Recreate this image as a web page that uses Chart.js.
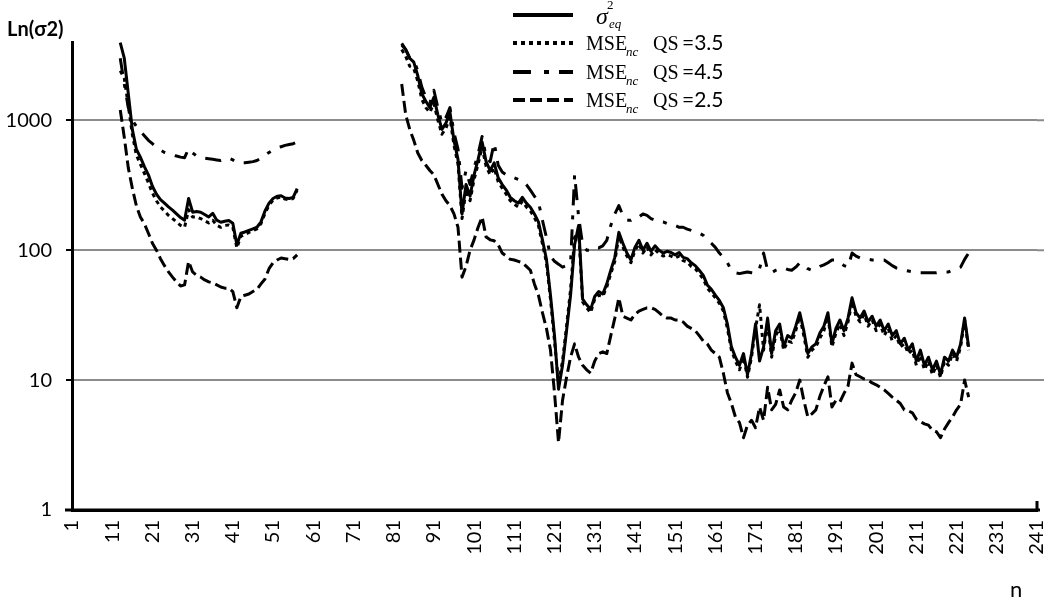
<!DOCTYPE html>
<html lang="en">
<head>
    <meta charset="UTF-8">
    <title>MSE vs n</title>
    <script src="https://cdn.jsdelivr.net/npm/chart.js"></script>
    <style>
        body { margin: 0; background: #fff; }
    </style>
</head>
<body>
    <canvas id="mse" width="1044" height="600"></canvas>
    <script>
        // x categories 1..241, only every 10th is labelled
        const nValues = Array.from({ length: 241 }, (_, i) => String(i + 1))
        const xTickLabels = ['1','11','21','31','41','51','61','71','81','91','101','111','121','131','141','151','161','171','181','191','201','211','221','231','241']
        const yTicks = [1, 10, 100, 1000]

        // first run starts at n=13, second at n=83
        const start1 = 13
        const start2 = 83

        // sigma^2_eq (solid)
        const sigmaEq1 = [3950,3000,1600,850,600,520,440,380,310,270,245,230,215,203,190,178,170,250,196,198,
            196,188,180,192,170,164,167,169,161,110,135,138,142,146,150,165,200,230,250,260,262,252,250,255,298]
        const sigmaEq2 = [3900,3500,3000,2800,2200,1600,1400,1250,1500,1100,
            850,950,1150,700,500,190,320,260,380,500,
            680,480,410,470,360,320,290,255,240,230,
            255,230,214,190,165,120,85,45,22,8.5,
            13,24,45,110,155,42,38,35,44,48,
            46,55,70,88,137,113,95,84,105,119,
            100,113,98,108,100,95,98,96,92,96,
            88,86,80,76,70,64,54,50,45,41,
            36,27,18,15,13,16,11,16,27,14,
            18,30,16,24,27,18,22,21,26,33,
            24,16,18,19,23,26,33,19,25,29,
            24,30,43,33,30,34,28,31,26,29,
            24,27,22,24,19,21,17,19,14,17,
            13,15,12,14,11,15,14,17,15,19,
            30,18]

        // MSE_nc QS=3.5 (dotted)
        const qs35a = [2400,2100,1300,780,540,460,390,330,275,240,215,200,185,175,165,155,150,205,180,180,
            175,168,162,170,155,150,155,156,150,104,128,132,137,141,146,160,192,222,242,252,256,247,245,250,290]
        const qs35b = [3500,3100,2600,2500,2000,1450,1250,1150,1350,1000,
            780,870,1050,640,460,175,290,240,350,460,
            620,440,380,430,335,300,270,240,225,215,
            238,215,200,178,155,112,80,42,20,9.5,
            14,26,50,125,140,40,36,33,42,45,
            44,52,66,82,128,106,90,80,99,112,
            95,106,92,101,94,90,92,90,87,90,
            83,81,75,72,66,60,51,47,43,39,
            34,25,17,14,12,15,10.5,15,25,38,
            17,28,15,22,25,17,20,19.5,24,31,
            22,15,17,18,21,24,31,18,23,27,
            22,28,40,31,28,32,26,29,24,27,
            22,25,20,22,18,19,16,17,13,15.5,
            12,14,11,13,10.5,14,13,16,14,18,
            29,17]

        // MSE_nc QS=4.5 (dash-dot)
        const qs45a = [3000,1900,1250,1000,900,820,760,700,660,620,590,565,550,540,530,520,515,605,560,530,
            515,510,505,500,495,490,505,510,495,475,470,470,475,480,490,510,540,565,590,610,625,640,650,660,680]
        const qs45b = [3800,3500,3000,2900,2400,1800,1500,1350,1700,1250,
            950,1050,1250,800,600,300,410,320,430,550,
            750,520,480,670,450,400,380,365,360,350,
            345,320,290,260,235,170,125,90,82,78,
            74,76,80,380,180,110,100,100,105,104,
            108,119,155,190,220,185,170,170,180,180,
            190,185,175,170,165,165,160,160,155,150,
            150,145,142,138,135,130,120,113,105,95,
            88,80,70,67,66,67,68,67,66,72,
            95,70,67,70,72,73,71,70,74,80,
            76,72,70,72,75,77,80,84,84,80,
            76,74,95,90,87,86,85,84,84,84,
            84,80,76,73,72,70,69,68,68,67,
            67,67,67,67,68,68,68,70,72,74,
            85,95]

        // MSE_nc QS=2.5 (dashed)
        const qs25a = [1200,740,430,300,220,180,160,135,113,100,86,76,68,62,57,53,54,82,68,64,
            62,59,57,56,54,52,51,51,48,36,44,45,46,48,50,55,60,72,80,84,87,86,85,86,92]
        const qs25b = [1900,1100,850,700,560,490,450,410,380,320,
            270,240,220,190,150,62,75,100,120,150,
            180,126,120,118,110,95,90,85,84,82,
            80,75,70,55,45,33,25,17,8,3.3,
            7,10.5,15,19,15,13,12,11.3,14,16,
            16.5,16,22,30,43,31,30,29,32,34,
            35,36,36,35,33,31,30,30,29,29,
            28,26,25,24,22,20,19,17,16,15,
            11.3,8,6.6,5.2,4.7,3.6,4.5,4.9,4.3,6.2,
            4.9,8.8,5.9,6.5,8.4,6.2,5.9,7,8,10,
            7,5.2,5.5,5.9,7.5,9,10.6,6.2,7,6.8,
            7.9,9,13.5,11,10.6,10.2,10,9.5,9.2,8.8,
            8.4,7.9,7.4,7,6.6,5.9,5.8,5.6,5,4.8,
            4.6,4.5,4.1,4,3.6,4.2,4.7,5.2,5.9,6.5,
            10,7.4]

        function series(a, b) {
            const out = new Array(nValues.length).fill(null)
            a.forEach((v, i) => { out[start1 - 1 + i] = v })
            b.forEach((v, i) => { out[start2 - 1 + i] = v })
            return out
        }

        const dotDash = [4, 4]
        const dashDot = [16, 10, 4, 10]
        const dashed = [12, 5]

        const lineStyle = {
            borderColor: '#000',
            borderWidth: 3,
            pointRadius: 0,
            tension: 0,
            spanGaps: false,
            borderJoinStyle: 'round',
            fill: false
        }

        // legend + extra text drawn by hand (needs sub/superscripts)
        const extras = {
            id: 'extras',
            afterDraw(chart) {
                const c = chart.ctx
                const y = chart.scales.y
                c.save()
                c.fillStyle = '#000'
                c.strokeStyle = '#000'

                // gridlines run on past the plot to the page edge
                c.strokeStyle = '#8c8c8c'
                c.lineWidth = 2
                c.beginPath()
                yTicks.slice(1).forEach(v => {
                    const py = y.getPixelForValue(v)
                    c.moveTo(chart.chartArea.right, py); c.lineTo(1044, py)
                })
                c.stroke()
                c.strokeStyle = '#000'

                // axis title
                c.font = 'bold 20px Lato'
                c.textBaseline = 'alphabetic'
                c.fillText('Ln(σ2)', 7, 36)
                c.font = '22px Lato'
                c.fillText('n', 1010, 597)

                // longer x axis line + small end tick
                c.lineWidth = 3
                c.setLineDash([])
                c.beginPath()
                c.moveTo(65, 510); c.lineTo(1040, 510)
                c.moveTo(1037, 510); c.lineTo(1037, 501)
                c.stroke()

                // legend
                const rows = [
                    { y: 15, dash: [], qs: null },
                    { y: 43, dash: dotDash, qs: '=3.5' },
                    { y: 72, dash: [18, 13, 5, 10], qs: '=4.5' },
                    { y: 100, dash: dashed, qs: '=2.5' }
                ]
                rows.forEach(r => {
                    c.lineWidth = 4
                    c.setLineDash(r.dash)
                    c.beginPath()
                    c.moveTo(513, r.y); c.lineTo(573, r.y)
                    c.stroke()
                    c.setLineDash([])
                    if (r.qs === null) {
                        c.font = 'italic 24px "Liberation Serif"'
                        c.fillText('σ', 596, r.y + 9)
                        c.font = '13px "Liberation Serif"'
                        c.fillText('2', 607, r.y - 6)
                        c.font = 'italic 13px "Liberation Serif"'
                        c.fillText('eq', 609, r.y + 13)
                    } else {
                        c.font = '20px "Liberation Serif"'
                        c.fillText('MSE', 586, r.y + 7)
                        c.font = 'italic 13px "Liberation Serif"'
                        c.fillText('nc', 626, r.y + 13)
                        c.font = '20px "Liberation Serif"'
                        c.fillText('QS', 653, r.y + 7)
                        c.font = '21px Lato'
                        c.fillText(r.qs, 682, r.y + 7)
                    }
                })
                c.restore()
            }
        }

        const data = {
            labels: nValues,
            datasets: [
                { ...lineStyle, label: 'sigma_eq^2', data: series(sigmaEq1, sigmaEq2), borderDash: [] },
                { ...lineStyle, label: 'MSE_nc QS=3.5', data: series(qs35a, qs35b), borderDash: dotDash },
                { ...lineStyle, label: 'MSE_nc QS=4.5', data: series(qs45a, qs45b), borderDash: dashDot },
                { ...lineStyle, label: 'MSE_nc QS=2.5', data: series(qs25a, qs25b), borderDash: dashed }
            ]
        }

        const config = {
            type: 'line',
            data: data,
            plugins: [extras],
            options: {
                responsive: false,
                animation: false,
                layout: { padding: { top: 42, right: 7, left: 0, bottom: 0 } },
                plugins: {
                    legend: { display: false },
                    tooltip: { enabled: false }
                },
                scales: {
                    x: {
                        type: 'category',
                        grid: { display: false, drawTicks: false },
                        border: { color: '#000', width: 3 },
                        ticks: {
                            autoSkip: false,
                            minRotation: 90,
                            maxRotation: 90,
                            padding: 10,
                            color: '#000',
                            font: { family: 'Lato', size: 20 },
                            callback: function (v) {
                                const l = this.getLabelForValue(v)
                                return xTickLabels.includes(l) ? l : ''
                            }
                        },
                        afterFit: s => {
                            s.height = 90
                            s.paddingLeft = 0
                            s.paddingRight = 0
                        }
                    },
                    y: {
                        type: 'logarithmic',
                        min: 1,
                        max: 4000,
                        afterBuildTicks: s => { s.ticks = yTicks.map(v => ({ value: v })) },
                        ticks: {
                            padding: 14,
                            color: '#000',
                            font: { family: 'Lato', size: 20 },
                            callback: v => String(v)
                        },
                        grid: {
                            color: c => (c.tick && c.tick.value === 1) ? 'rgba(0,0,0,0)' : '#8c8c8c',
                            lineWidth: 2,
                            tickColor: '#000',
                            tickLength: 6,
                            tickWidth: 2
                        },
                        border: { color: '#000', width: 3 },
                        afterFit: s => { s.width = 72 }
                    }
                }
            }
        }
        new Chart(document.getElementById('mse'), config)
    </script>
</body>
</html>
